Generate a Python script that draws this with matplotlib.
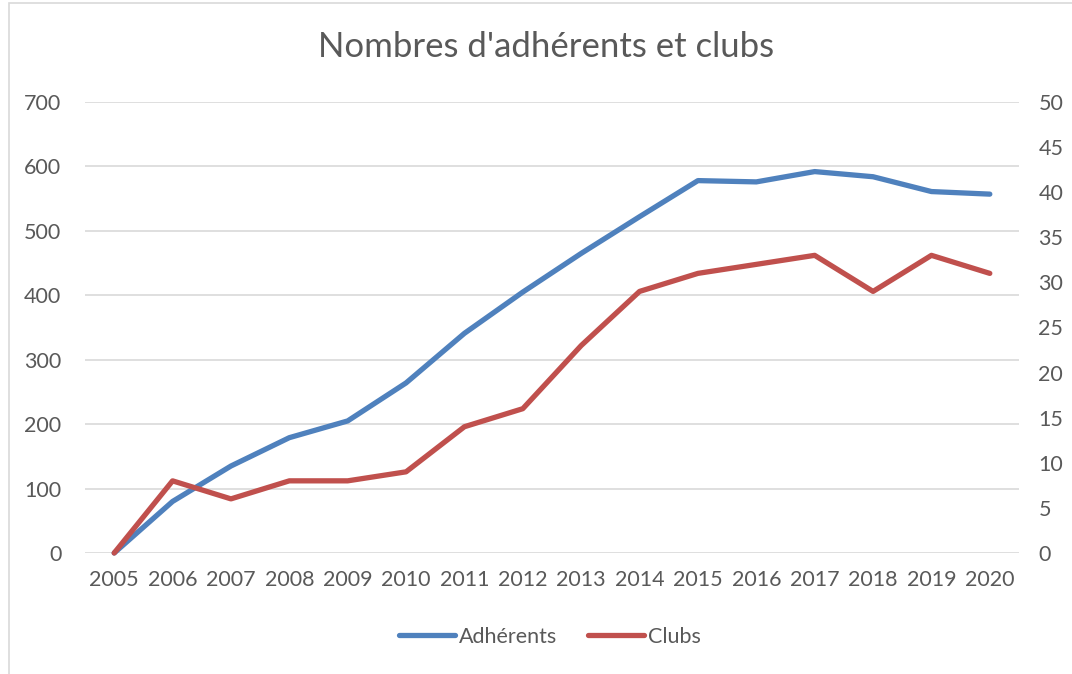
import matplotlib.pyplot as plt
from matplotlib.patches import Rectangle

# données
annees = ["2005", "2006", "2007", "2008", "2009", "2010", "2011", "2012",
          "2013", "2014", "2015", "2016", "2017", "2018", "2019", "2020"]
adherents = [0, 80, 135, 179, 205, 264, 341, 405, 465, 522, 578, 576, 592, 584, 561, 557]
clubs = [0, 8, 6, 8, 8, 9, 14, 16, 23, 29, 31, 32, 33, 29, 33, 31]

bleu = "#4F81BD"
rouge = "#C0504D"
gris_texte = "#595959"
gris_grille = "#D9D9D9"

plt.rcParams["font.family"] = ["Lato", "DejaVu Sans"]

fig = plt.figure(figsize=(10.72, 6.74), dpi=100)
W, H = 1072, 674

# cadre du graphique (coupé à droite et en bas)
fig.patches.append(Rectangle((9 / W, -0.1), 1.2, 1 - 3 / H + 0.1, transform=fig.transFigure,
                             fill=False, edgecolor=gris_grille, linewidth=1.2))

ax = fig.add_axes([85 / W, 1 - 553 / H, (1019 - 85) / W, (553 - 102) / H])
ax2 = ax.twinx()

x = list(range(len(annees)))
l1, = ax.plot(x, adherents, color=bleu, linewidth=3.8, solid_capstyle="round",
              solid_joinstyle="round", label="Adhérents", zorder=3, clip_on=False)
l2, = ax2.plot(x, clubs, color=rouge, linewidth=3.8, solid_capstyle="round",
               solid_joinstyle="round", label="Clubs", zorder=3, clip_on=False)

ax.set_xlim(-0.5, len(annees) - 0.5)
ax.set_ylim(0, 700)
ax2.set_ylim(0, 50)
ax.set_yticks(range(0, 701, 100))
ax2.set_yticks(range(0, 51, 5))
ax.set_xticks(x)
ax.set_xticklabels(annees)

ax.grid(axis="y", color=gris_grille, linewidth=1.2)
ax.set_axisbelow(True)
for a in (ax, ax2):
    for s in a.spines.values():
        s.set_visible(False)

ax.tick_params(axis="y", length=0, pad=17, labelsize=15.5, labelcolor=gris_texte)
ax.tick_params(axis="x", length=0, pad=12, labelsize=15.5, labelcolor=gris_texte)
ax2.tick_params(axis="y", length=0, pad=14, labelsize=15.5, labelcolor=gris_texte)

fig.text(546 / W, 1 - 47 / H, "Nombres d'adhérents et clubs", ha="center", va="center",
         fontsize=25, color=gris_texte)

leg = fig.legend(handles=[l1, l2], loc="center", bbox_to_anchor=(550 / W, 1 - 637 / H),
                 ncol=2, frameon=False, fontsize=15.5, handlelength=2.6, handletextpad=0.2,
                 columnspacing=1.4)
for t in leg.get_texts():
    t.set_color(gris_texte)

fig.savefig("out.png", dpi=100)
